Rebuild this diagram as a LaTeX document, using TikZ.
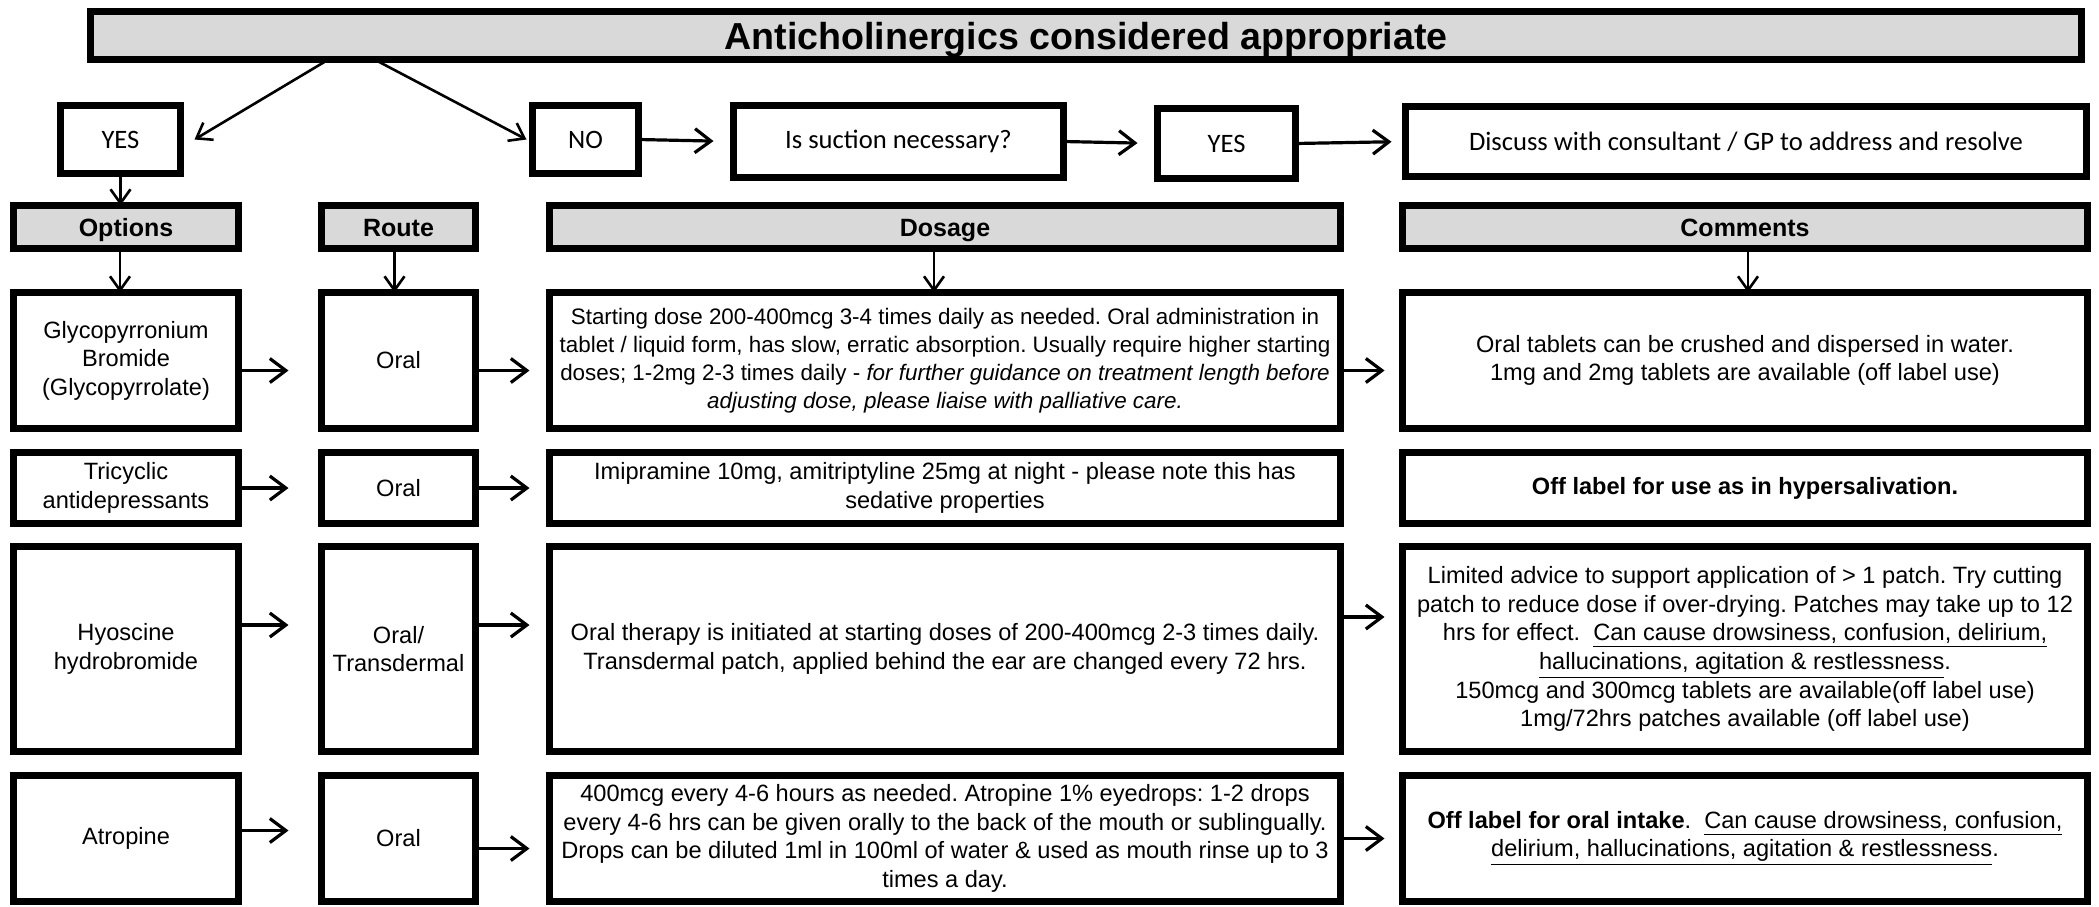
\documentclass[tikz,border=0pt]{standalone}
\usepackage{fontspec}
\setmainfont{Liberation Sans}
\newfontfamily\calibri{Carlito}
\usetikzlibrary{arrows.meta,positioning,calc}
\frenchspacing

\tikzstyle{box} = [draw=black, line width=3.5pt, fill=white, align=center, inner sep=0pt, outer sep=0pt, font=\fontsize{11.8}{14.3}\selectfont]
\tikzstyle{hbox} = [box, fill=black!15, font=\bfseries\fontsize{12.5}{15}\selectfont, minimum height=21.5pt, text height=9pt, text depth=0pt]
\tikzstyle{qbox} = [box, font=\calibri\fontsize{13.3}{16}\selectfont, minimum height=35pt]
\tikzstyle{optbox} = [box, minimum width=112.5pt]
\tikzstyle{routebox} = [box, minimum width=77pt]
\tikzstyle{dosebox} = [box, minimum width=395.5pt]
\tikzstyle{combox} = [box, minimum width=342.5pt]
\tikzstyle{harrow} = [-{Straight Barb[length=8pt,width=12pt]}, line width=1.6pt]
\tikzstyle{varrow} = [-{Straight Barb[length=7pt,width=10pt]}, line width=1.3pt]

\begin{document}
\begin{tikzpicture}[x=0.5pt, y=-0.5pt]
    \useasboundingbox (0,0) rectangle (2099,906);

    % title
    \node[hbox, font=\bfseries\fontsize{18.8}{22}\selectfont, minimum width=995.5pt, minimum height=24pt, text height=13.5pt] (title) at (1086,35.5) {Anticholinergics considered appropriate};
    \coordinate (tl) at ([xshift=119pt]title.south west);
    \coordinate (tr) at ([xshift=142pt]title.south west);

    % decision row
    \node[qbox, minimum width=60pt, minimum height=34pt] (yes) at (120.5,139.5) {YES};
    \node[qbox, minimum width=53pt, minimum height=34pt] (no) at (585.5,139.5) {NO};
    \node[qbox, minimum width=165pt, minimum height=36pt] (suction) at (898.5,141.5) {Is suction necessary?};
    \node[qbox, minimum width=69pt] (yes2) at (1226.5,143.5) {YES};
    \node[qbox, minimum width=340.5pt] (discuss) at (1746,141.5) {Discuss with consultant / GP to address and resolve};

    % headers
    \node[hbox, minimum width=112.5pt] (hopt) at (126,227) {Options};
    \node[hbox, minimum width=77pt] (hroute) at (398.5,227) {Route};
    \node[hbox, minimum width=395.5pt] (hdose) at (945,227) {Dosage};
    \node[hbox, minimum width=342.5pt] (hcom) at (1745,227) {Comments};

    % glycopyrronium
    \node[optbox, minimum height=68pt] (opt1) at (126,360.5) {Glycopyrronium\\Bromide\\(Glycopyrrolate)};
    \node[routebox, minimum height=68pt] (route1) at (398.5,360.5) {Oral};
    \node[dosebox, minimum height=68pt, font=\fontsize{11.2}{14}\selectfont] (dose1) at (945,360.5) {Starting dose 200-400mcg 3-4 times daily as needed. Oral administration in\\tablet / liquid form, has slow, erratic absorption. Usually require higher starting\\doses; 1-2mg 2-3 times daily - \textit{for further guidance on treatment length before}\\\textit{adjusting dose, please liaise with palliative care.}};
    \node[combox, minimum height=68pt] (com1) at (1745,360.5) {Oral tablets can be crushed and dispersed in water.\\1mg and 2mg tablets are available (off label use)};

    % tricyclic
    \node[optbox, minimum height=35.5pt] (opt2) at (126,488) {Tricyclic\\antidepressants};
    \node[routebox, minimum height=35.5pt] (route2) at (398.5,488) {Oral};
    \node[dosebox, minimum height=35.5pt] (dose2) at (945,488) {Imipramine 10mg, amitriptyline 25mg at night - please note this has\\sedative properties};
    \node[combox, minimum height=35.5pt] (com2) at (1745,488) {\textbf{Off label for use as in hypersalivation.}};

    % hyoscine
    \node[optbox, minimum height=102.5pt] (opt3) at (126,649) {Hyoscine\\hydrobromide};
    \node[routebox, minimum height=102.5pt] (route3) at (398.5,649) {Oral/\\Transdermal};
    \node[dosebox, minimum height=102.5pt] (dose3) at (945,649) {Oral therapy is initiated at starting doses of 200-400mcg 2-3 times daily.\\Transdermal patch, applied behind the ear are changed every 72 hrs.};
    \node[combox, minimum height=102.5pt] (com3) at (1745,649) {Limited advice to support application of > 1 patch. Try cutting\\patch to reduce dose if over-drying. Patches may take up to 12\\hrs for effect.\ \ \underline{Can cause drowsiness, confusion, delirium,}\\\underline{hallucinations, agitation \& restlessness}.\\150mcg and 300mcg tablets are available(off label use)\\1mg/72hrs patches available (off label use)};

    % atropine
    \node[optbox, minimum height=63pt] (opt4) at (126,838.5) {Atropine};
    \node[routebox, minimum height=63pt] (route4) at (398.5,838.5) {Oral};
    \node[dosebox, minimum height=63pt] (dose4) at (945,838.5) {400mcg every 4-6 hours as needed. Atropine 1\% eyedrops: 1-2 drops\\every 4-6 hrs can be given orally to the back of the mouth or sublingually.\\Drops can be diluted 1ml in 100ml of water \& used as mouth rinse up to 3\\times a day.};
    \node[combox, minimum height=63pt] (com4) at (1745,838.5) {\textbf{Off label for oral intake}.\ \ \underline{Can cause drowsiness, confusion,}\\\underline{delirium, hallucinations, agitation \& restlessness}.};

    % decision arrows
    \draw[varrow] (tl) -- ([xshift=7pt]yes.east);
    \draw[varrow] (tr) -- ([xshift=-3pt]no.west);
    \draw[harrow, shorten >=10pt] (no.east) -- (suction.west);
    \draw[harrow, shorten >=10pt] (suction.east) -- (yes2.west);
    \draw[harrow, shorten >=7pt] (yes2.east) -- (discuss.west);
    \draw[varrow] (yes.south) -- (yes.south |- hopt.north);

    % header arrows
    \draw[varrow] ([xshift=-3pt]hopt.south) -- ([xshift=-3pt]opt1.north);
    \draw[varrow] ([xshift=-2pt]hroute.south) -- ([xshift=-2pt]route1.north);
    \draw[varrow] ([xshift=-5.5pt]hdose.south) -- ([xshift=-5.5pt]dose1.north);
    \draw[varrow] ([xshift=1.5pt]hcom.south) -- ([xshift=1.5pt]com1.north);

    % row arrows
    \draw[harrow, shorten >=16.5pt] ([yshift=-5pt]opt1.east) -- ([yshift=-5pt]route1.west);
    \draw[harrow, shorten >=10pt] ([yshift=-5pt]route1.east) -- ([yshift=-5pt]dose1.west);
    \draw[harrow, shorten >=9pt] ([yshift=-5pt]dose1.east) -- ([yshift=-5pt]com1.west);

    \draw[harrow, shorten >=16.5pt] (opt2.east) -- (route2.west);
    \draw[harrow, shorten >=10pt] (route2.east) -- (dose2.west);

    \draw[harrow, shorten >=16.5pt] ([yshift=12pt]opt3.east) -- ([yshift=12pt]route3.west);
    \draw[harrow, shorten >=10pt] ([yshift=12pt]route3.east) -- ([yshift=12pt]dose3.west);
    \draw[harrow, shorten >=9pt] ([yshift=16pt]dose3.east) -- ([yshift=16pt]com3.west);

    \draw[harrow, shorten >=16.5pt] ([yshift=4pt]opt4.east) -- ([yshift=4pt]route4.west);
    \draw[harrow, shorten >=10pt] ([yshift=-5pt]route4.east) -- ([yshift=-5pt]dose4.west);
    \draw[harrow, shorten >=9pt] (dose4.east) -- (com4.west);
\end{tikzpicture}
\end{document}
